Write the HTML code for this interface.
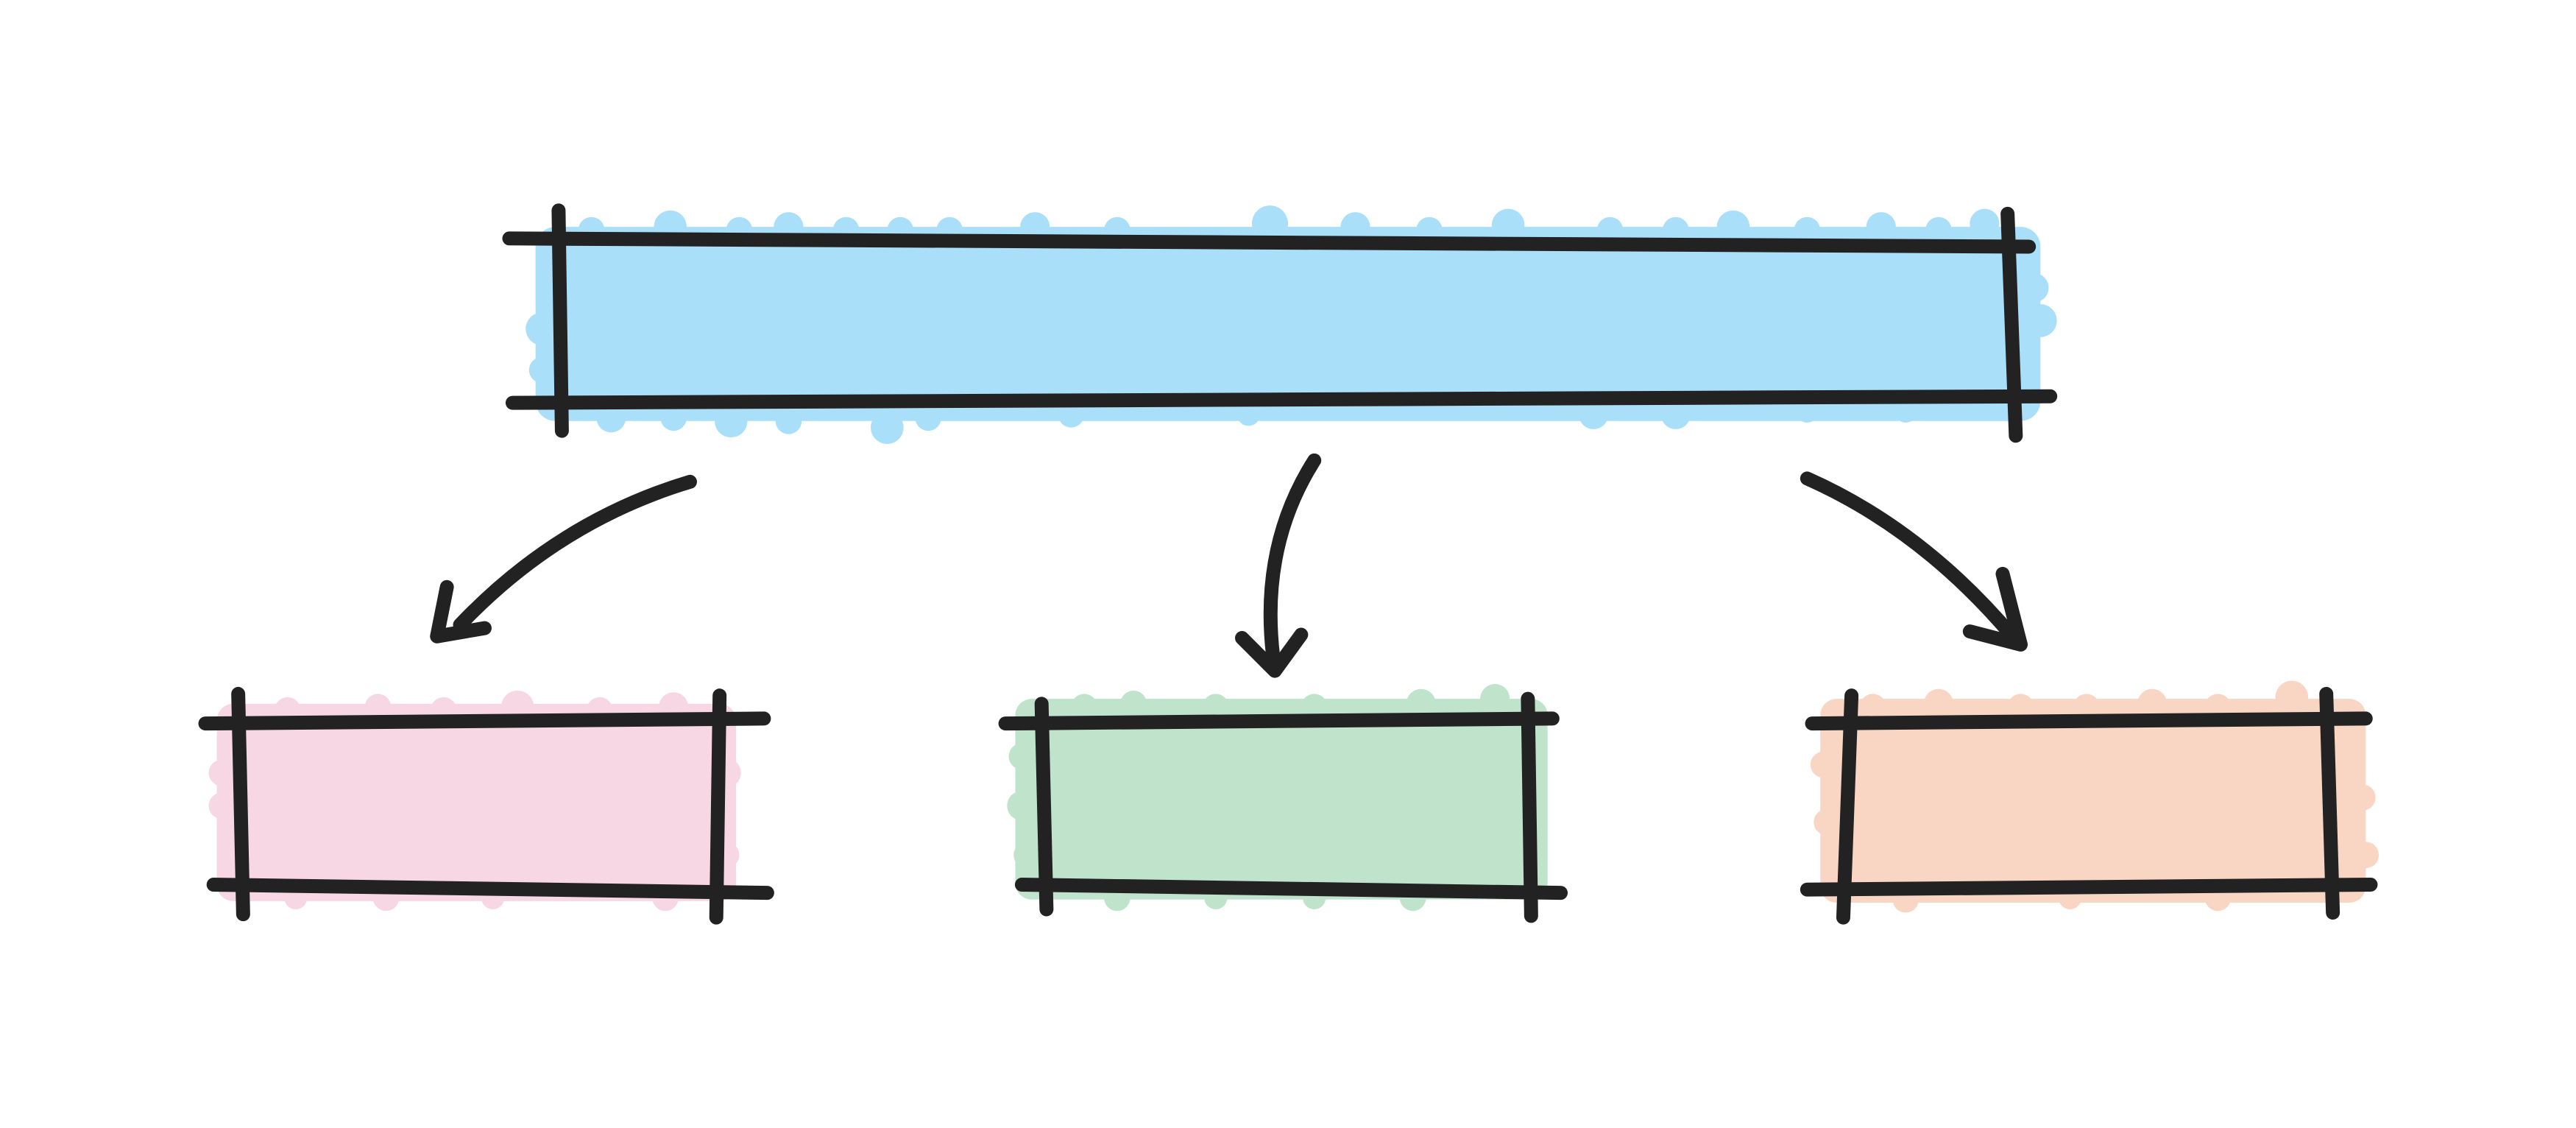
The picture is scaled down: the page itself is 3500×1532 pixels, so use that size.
<!DOCTYPE html>
<html><head><meta charset="utf-8"><style>
html,body{margin:0;padding:0;background:#fff;}
svg{display:block;}
</style></head><body>
<svg width="3500" height="1532" viewBox="0 0 1568 686" preserveAspectRatio="none" xmlns="http://www.w3.org/2000/svg">
<rect width="1568" height="686" fill="#fff"/>
<g fill="#aadff9">
<rect x="326" y="138" width="916" height="118" rx="12"/>
<circle cx="360" cy="140" r="8"/><circle cx="408" cy="138" r="10"/><circle cx="450" cy="140" r="8"/><circle cx="480" cy="138" r="9"/><circle cx="515" cy="140" r="8"/><circle cx="548" cy="140" r="8"/><circle cx="578" cy="140" r="8"/><circle cx="630" cy="138" r="9"/><circle cx="680" cy="140" r="8"/><circle cx="773" cy="136" r="11"/><circle cx="825" cy="138" r="9"/><circle cx="870" cy="140" r="8"/><circle cx="918" cy="137" r="10"/><circle cx="980" cy="140" r="8"/><circle cx="1020" cy="140" r="8"/><circle cx="1055" cy="138" r="10"/><circle cx="1100" cy="140" r="8"/><circle cx="1145" cy="138" r="9"/><circle cx="1180" cy="140" r="8"/><circle cx="1208" cy="136" r="9"/>
<circle cx="372" cy="254" r="9"/><circle cx="410" cy="254" r="8"/><circle cx="445" cy="256" r="10"/><circle cx="480" cy="256" r="8"/><circle cx="540" cy="260" r="10"/><circle cx="565" cy="254" r="8"/><circle cx="652" cy="252" r="8"/><circle cx="760" cy="252" r="7"/><circle cx="970" cy="252" r="9"/><circle cx="1020" cy="252" r="9"/><circle cx="1100" cy="250" r="7"/><circle cx="1160" cy="250" r="7"/>
<circle cx="330" cy="200" r="10"/><circle cx="330" cy="225" r="8"/><circle cx="1242" cy="195" r="10"/><circle cx="1238" cy="175" r="9"/>
</g>
<g fill="#f8d7e4">
<rect x="132" y="428" width="316" height="120" rx="10"/>
<circle cx="175" cy="432" r="8"/><circle cx="230" cy="430" r="8"/><circle cx="270" cy="432" r="8"/><circle cx="315" cy="430" r="10"/><circle cx="365" cy="432" r="8"/><circle cx="410" cy="430" r="9"/><circle cx="135" cy="470" r="8"/><circle cx="135" cy="490" r="8"/><circle cx="442" cy="470" r="9"/><circle cx="442" cy="520" r="8"/><circle cx="180" cy="546" r="7"/><circle cx="235" cy="546" r="8"/><circle cx="300" cy="546" r="7"/><circle cx="405" cy="546" r="8"/>
</g>
<g fill="#bfe3cb">
<rect x="618" y="425" width="324" height="122" rx="10"/>
<circle cx="660" cy="430" r="8"/><circle cx="690" cy="428" r="8"/><circle cx="740" cy="430" r="8"/><circle cx="800" cy="430" r="8"/><circle cx="865" cy="428" r="9"/><circle cx="910" cy="425" r="9"/><circle cx="622" cy="460" r="8"/><circle cx="622" cy="490" r="9"/><circle cx="625" cy="520" r="8"/><circle cx="680" cy="546" r="8"/><circle cx="740" cy="546" r="7"/><circle cx="800" cy="546" r="7"/><circle cx="860" cy="546" r="8"/>
</g>
<g fill="#f9d6c4">
<rect x="1108" y="425" width="332" height="124" rx="10"/>
<circle cx="1140" cy="430" r="8"/><circle cx="1180" cy="428" r="9"/><circle cx="1230" cy="430" r="8"/><circle cx="1270" cy="430" r="8"/><circle cx="1310" cy="428" r="9"/><circle cx="1350" cy="430" r="8"/><circle cx="1395" cy="424" r="10"/><circle cx="1110" cy="465" r="8"/><circle cx="1112" cy="500" r="8"/><circle cx="1438" cy="485" r="8"/><circle cx="1440" cy="520" r="8"/><circle cx="1160" cy="547" r="8"/><circle cx="1260" cy="546" r="7"/><circle cx="1350" cy="546" r="8"/>
</g>
<g stroke="#222" stroke-width="8.5" stroke-linecap="round" stroke-linejoin="round" fill="none">
<line x1="310" y1="145" x2="1235" y2="150"/>
<line x1="312" y1="245" x2="1248" y2="241"/>
<line x1="340" y1="128" x2="342" y2="262"/>
<line x1="1222" y1="130" x2="1227" y2="265"/>
<line x1="125" y1="440" x2="465" y2="437"/>
<line x1="130" y1="538" x2="467" y2="543"/>
<line x1="145" y1="422" x2="148" y2="556"/>
<line x1="438" y1="423" x2="436" y2="558"/>
<line x1="612" y1="440" x2="945" y2="437"/>
<line x1="622" y1="538" x2="950" y2="543"/>
<line x1="634" y1="428" x2="637" y2="553"/>
<line x1="930" y1="425" x2="932" y2="557"/>
<line x1="1103" y1="440" x2="1440" y2="437"/>
<line x1="1100" y1="541" x2="1443" y2="538"/>
<line x1="1127" y1="423" x2="1122" y2="558"/>
<line x1="1416" y1="422" x2="1420" y2="555"/>
<path d="M420,293 Q340,317 280,380"/>
<path d="M272,357 L266,387 L295,382"/>
<path d="M800,280 Q765,335 776,407"/>
<path d="M756,388 L776,408 L792,386"/>
<path d="M1100,291 Q1170,322 1225,387"/>
<path d="M1219,349 L1230,392 L1199,384"/>
</g>
</svg>
</body></html>
